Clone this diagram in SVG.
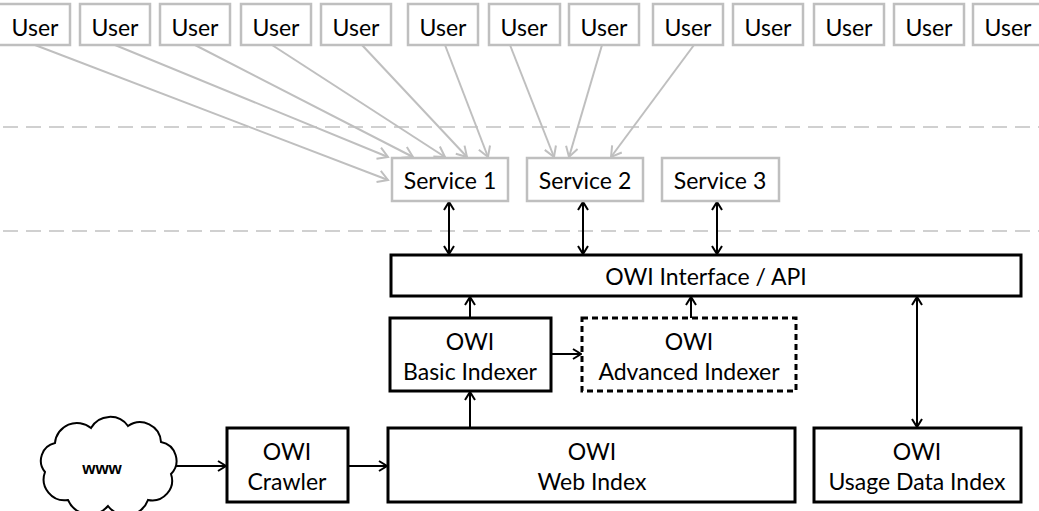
<svg xmlns="http://www.w3.org/2000/svg" width="1039" height="511" viewBox="0 0 1039 511">
  <defs>
    <style>
      .bg { fill: #ffffff; }
      .user rect, .svc rect { fill: #ffffff; stroke: #bfbfbf; stroke-width: 2.5; }
      .core rect { fill: #ffffff; stroke: #000000; stroke-width: 3; }
      .core rect.dashed { stroke-dasharray: 6 4; }
      text { font-family: Lato, "Liberation Sans", sans-serif; font-size: 23px; fill: #000000; text-anchor: middle; }
      .sep { stroke: #d0d0d0; stroke-width: 2; stroke-dasharray: 15 8; fill: none; }
      .gray { stroke: #bfbfbf; stroke-width: 2; fill: none; marker-end: url(#headGray); }
      .blk { stroke: #000000; stroke-width: 2; fill: none; marker-end: url(#headBlack); }
      .both { marker-start: url(#headBlack); }
      .cloud { fill: #ffffff; stroke: #000000; stroke-width: 2; }
      .www { font-family: "Liberation Sans", Arial, sans-serif; font-size: 17px; font-weight: bold; }
    </style>
    <marker id="headGray" markerUnits="userSpaceOnUse" markerWidth="14" markerHeight="14" viewBox="-11 -7 13 14" refX="0" refY="0" orient="auto-start-reverse">
      <path d="M-10,-6 L0,0 L-10,6" fill="none" stroke="#bfbfbf" stroke-width="2"/>
    </marker>
    <marker id="headBlack" markerUnits="userSpaceOnUse" markerWidth="14" markerHeight="14" viewBox="-10 -7 12 14" refX="0" refY="0" orient="auto-start-reverse">
      <path d="M-8,-5 L0,0 L-8,5" fill="none" stroke="#000000" stroke-width="2"/>
    </marker>
  </defs>

  <rect class="bg" x="0" y="0" width="1039" height="511"/>

  <!-- layer separators -->
  <line class="sep" x1="3" y1="127" x2="1039" y2="127"/>
  <line class="sep" x1="3" y1="231" x2="1039" y2="231"/>

  <!-- connectors -->
  <g id="connectors">
    <line class="gray" x1="35" y1="45" x2="388" y2="180"/>
    <line class="gray" x1="115" y1="45" x2="388" y2="157"/>
    <line class="gray" x1="195" y1="45" x2="413" y2="157"/>
    <line class="gray" x1="272" y1="45" x2="445" y2="157"/>
    <line class="gray" x1="362" y1="45" x2="467" y2="157"/>
    <line class="gray" x1="445" y1="45" x2="488" y2="157"/>
    <line class="gray" x1="510" y1="45" x2="554" y2="157"/>
    <line class="gray" x1="602" y1="45" x2="569" y2="157"/>
    <line class="gray" x1="694" y1="45" x2="611" y2="157"/>

    <line class="blk both" x1="449" y1="202" x2="449" y2="254"/>
    <line class="blk both" x1="583" y1="202" x2="583" y2="254"/>
    <line class="blk both" x1="717" y1="202" x2="717" y2="254"/>

    <line class="blk" x1="470" y1="318" x2="470" y2="297"/>
    <line class="blk" x1="470" y1="428" x2="470" y2="392"/>
    <line class="blk" x1="551" y1="354" x2="581" y2="354"/>
    <line class="blk" x1="691" y1="318" x2="691" y2="297"/>
    <line class="blk both" x1="917" y1="297" x2="917" y2="427"/>
    <line class="blk" x1="348" y1="466" x2="387" y2="466"/>
    <line class="blk" x1="174" y1="466" x2="226" y2="466"/>
  </g>

  <!-- users -->
  <g id="user1" class="user"><rect x="-2" y="4" width="72" height="41"/><text x="35" y="36">User</text></g>
  <g id="user2" class="user"><rect x="80" y="4" width="70" height="41"/><text x="115" y="36">User</text></g>
  <g id="user3" class="user"><rect x="160" y="4" width="70" height="41"/><text x="195" y="36">User</text></g>
  <g id="user4" class="user"><rect x="241" y="4" width="70" height="41"/><text x="276" y="36">User</text></g>
  <g id="user5" class="user"><rect x="321" y="4" width="70" height="41"/><text x="356" y="36">User</text></g>
  <g id="user6" class="user"><rect x="408" y="4" width="70" height="41"/><text x="443" y="36">User</text></g>
  <g id="user7" class="user"><rect x="489" y="4" width="71" height="41"/><text x="524" y="36">User</text></g>
  <g id="user8" class="user"><rect x="569" y="4" width="70" height="41"/><text x="604" y="36">User</text></g>
  <g id="user9" class="user"><rect x="653" y="4" width="70" height="41"/><text x="688" y="36">User</text></g>
  <g id="user10" class="user"><rect x="733" y="4" width="70" height="41"/><text x="768" y="36">User</text></g>
  <g id="user11" class="user"><rect x="814" y="4" width="70" height="41"/><text x="849" y="36">User</text></g>
  <g id="user12" class="user"><rect x="894" y="4" width="70" height="41"/><text x="929" y="36">User</text></g>
  <g id="user13" class="user"><rect x="973" y="4" width="72" height="41"/><text x="1008" y="36">User</text></g>

  <!-- services -->
  <g id="service1" class="svc"><rect x="392" y="158" width="116" height="43"/><text x="450" y="189">Service 1</text></g>
  <g id="service2" class="svc"><rect x="527" y="158" width="116" height="43"/><text x="585" y="189">Service 2</text></g>
  <g id="service3" class="svc"><rect x="662" y="158" width="117" height="43"/><text x="720" y="189">Service 3</text></g>

  <!-- platform -->
  <g id="api" class="core"><rect x="391" y="255" width="630" height="41"/><text x="706" y="285">OWI Interface / API</text></g>
  <g id="basic-indexer" class="core"><rect x="390" y="318" width="161" height="73"/><text x="470" y="350">OWI</text><text x="470" y="380">Basic Indexer</text></g>
  <g id="advanced-indexer" class="core"><rect class="dashed" x="582" y="318" width="214" height="73"/><text x="689" y="350">OWI</text><text x="689" y="380">Advanced Indexer</text></g>
  <g id="crawler" class="core"><rect x="227" y="428" width="121" height="74"/><text x="287" y="460">OWI</text><text x="287" y="490">Crawler</text></g>
  <g id="web-index" class="core"><rect x="388" y="428" width="407" height="74"/><text x="592" y="460">OWI</text><text x="592" y="490">Web Index</text></g>
  <g id="usage-index" class="core"><rect x="814" y="428" width="207" height="74"/><text x="917" y="460">OWI</text><text x="917" y="490">Usage Data Index</text></g>

  <!-- web cloud -->
  <g id="www">
    <path class="cloud" d="M45,472 A18,18 0 0 1 55,443 A22,22 0 0 1 91,428 A22,22 0 0 1 128,426 A21,21 0 0 1 161,442 A19,19 0 0 1 171,474 A20,20 0 0 1 148,500 A23,23 0 0 1 108,506 A24,24 0 0 1 68,500 A21,21 0 0 1 45,472 Z"/>
    <text class="www" x="102" y="474">www</text>
  </g>
</svg>
